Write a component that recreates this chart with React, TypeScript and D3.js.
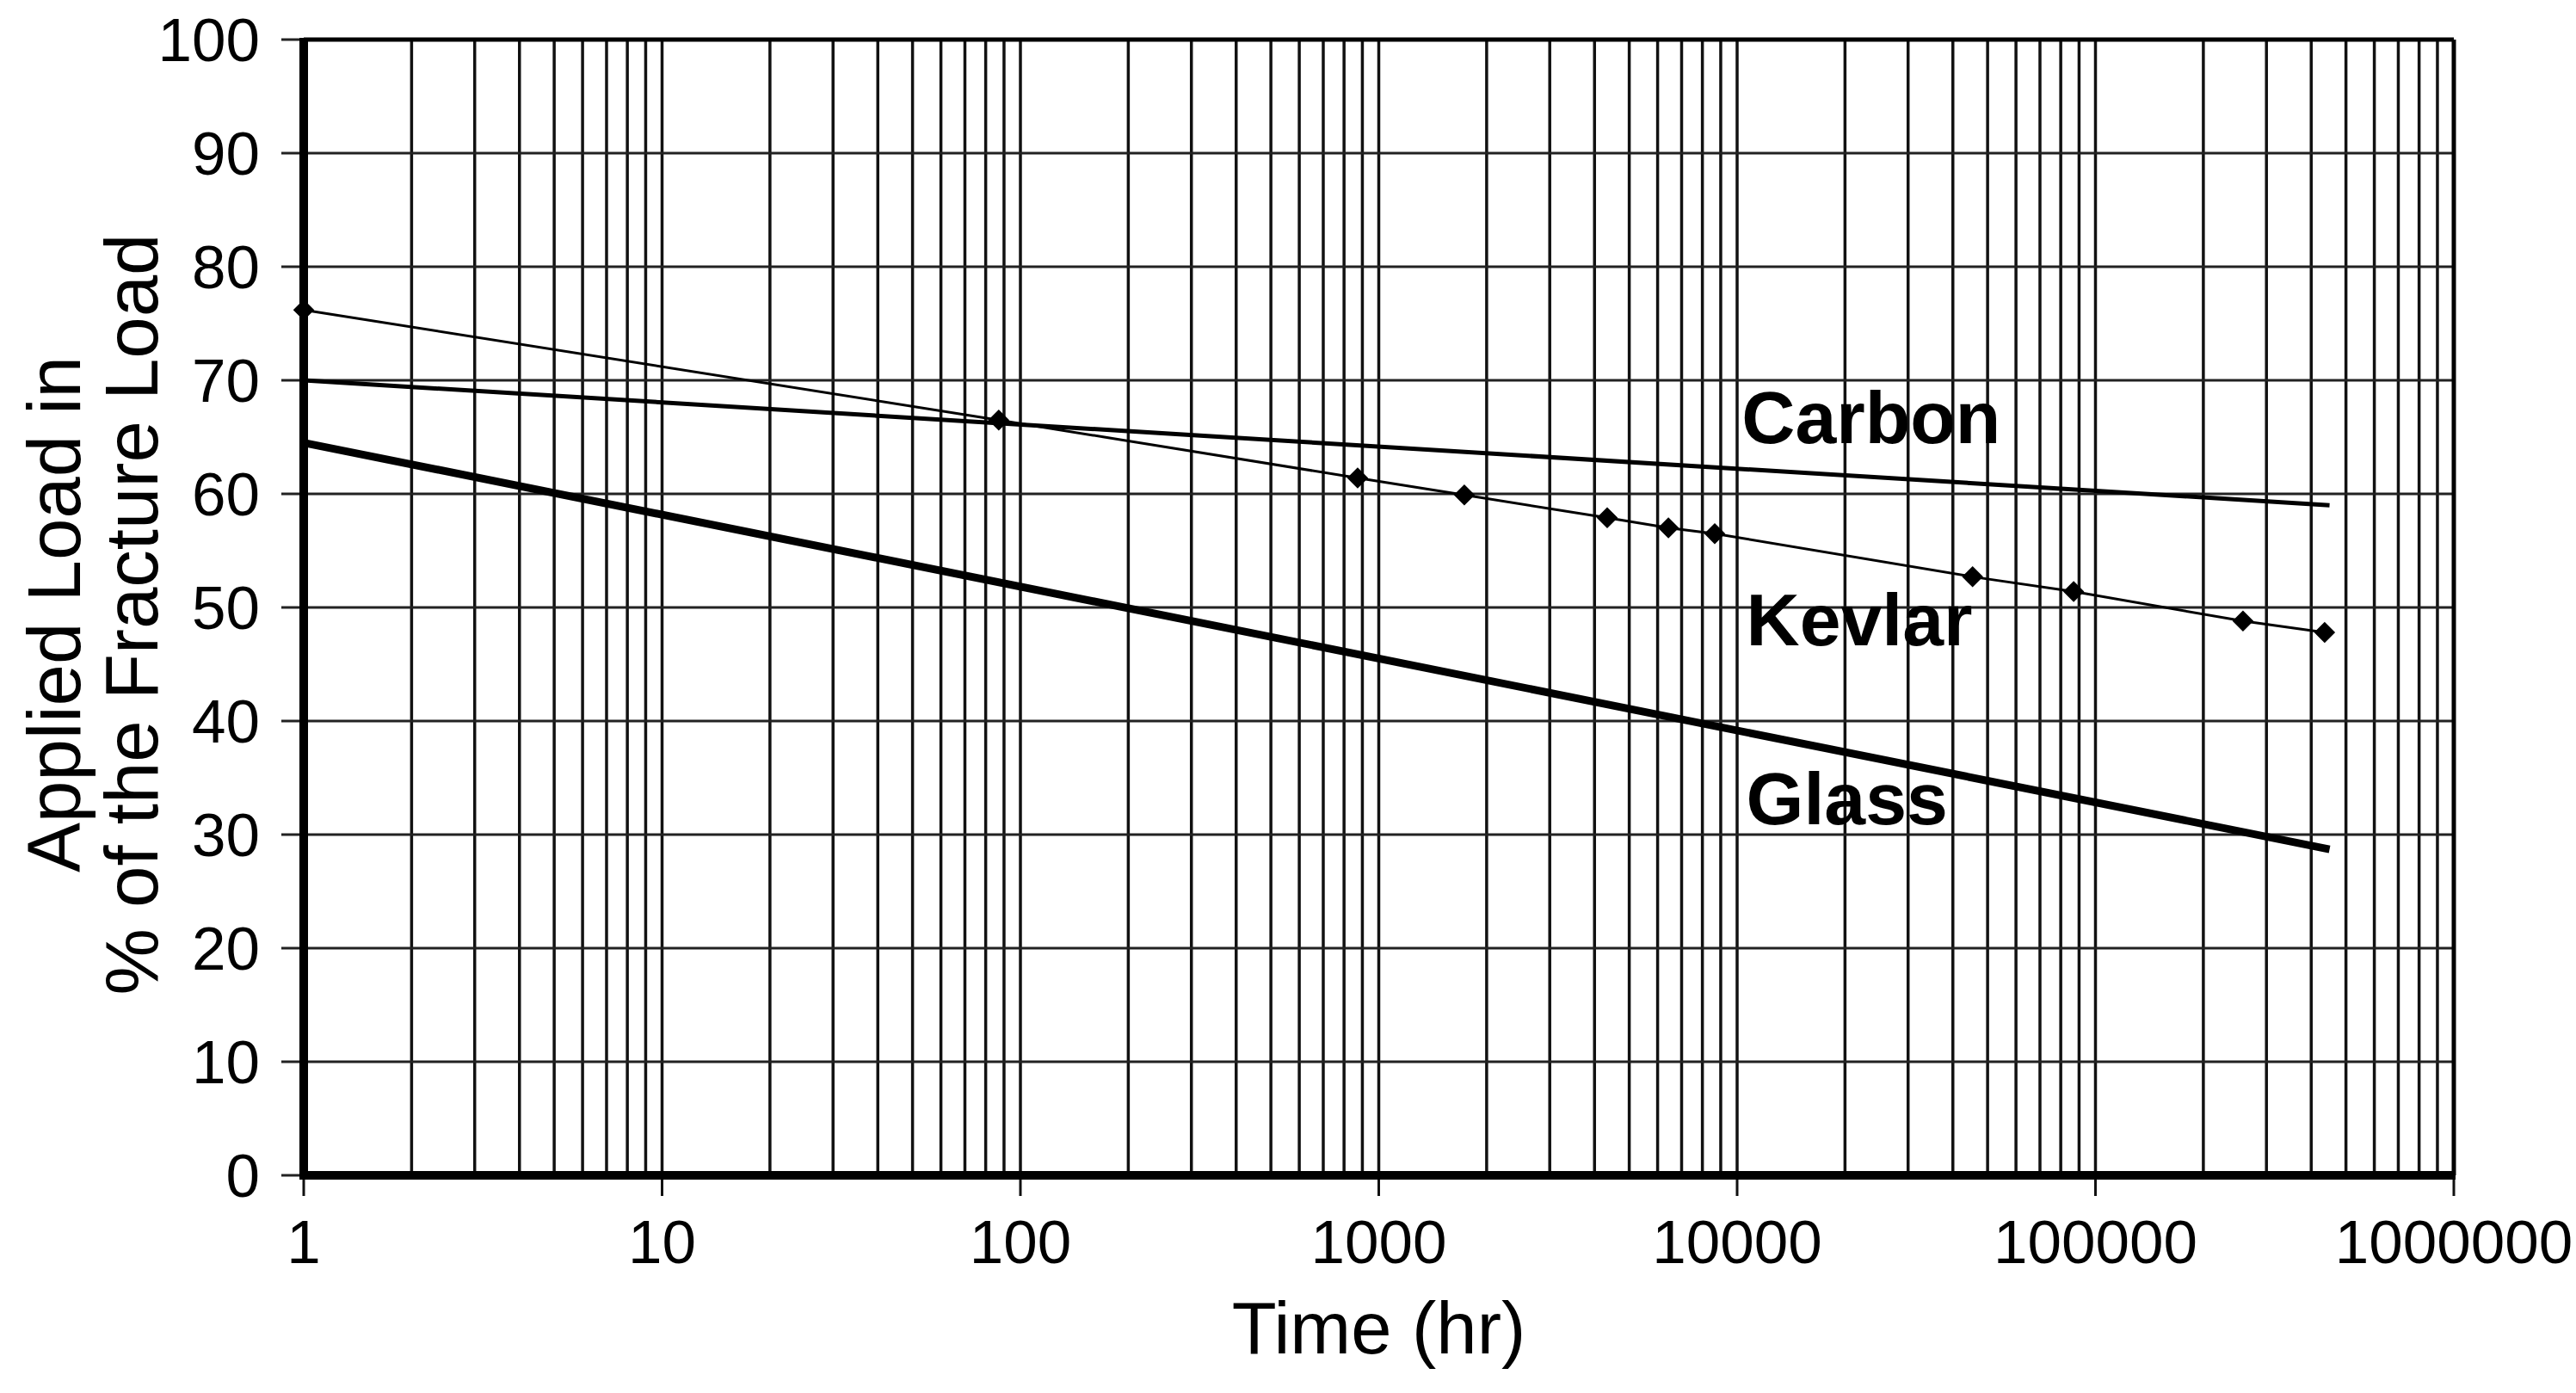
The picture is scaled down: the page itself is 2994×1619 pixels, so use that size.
import React, { useEffect, useRef } from "react";
import * as d3 from "d3";

// Time (hr) and load (% of fracture load)
const kevlarTimes = [1, 87, 873, 1733, 4340, 6430, 8660, 45400, 86900, 258000, 436000];
const kevlarLoads = [76.2, 66.5, 61.4, 59.9, 57.9, 57.0, 56.5, 52.7, 51.4, 48.8, 47.8];

const carbonTimes = [1, 450000];
const carbonLoads = [70, 59.0];

const glassTimes = [1, 450000];
const glassLoads = [64.5, 28.7];

const xTickLabels = ["1", "10", "100", "1000", "10000", "100000", "1000000"];
const yTickValues = [0, 10, 20, 30, 40, 50, 60, 70, 80, 90, 100];

// label anchors: [time, load at baseline]
const curveLabels = [
  { name: "Carbon", t: 10300, v: 64.5 },
  { name: "Kevlar", t: 10600, v: 46.7 },
  { name: "Glass", t: 10600, v: 30.9 },
];

const WIDTH = 2994;
const HEIGHT = 1619;
const FONT = "'Liberation Sans', Arial, Helvetica, sans-serif";

const App: React.FC = () => {
  const ref = useRef<SVGSVGElement | null>(null);

  useEffect(() => {
    const x = d3.scaleLog().domain([1, 1e6]).range([353, 2852]);
    const y = d3.scaleLinear().domain([0, 100]).range([1366, 46]);

    const svg = d3.select(ref.current);
    svg.selectAll("*").remove();

    svg.append("rect").attr("width", WIDTH).attr("height", HEIGHT).attr("fill", "#fff");

    // vertical log grid
    svg
      .append("g")
      .selectAll("line")
      .data(x.ticks())
      .join("line")
      .attr("x1", (d) => x(d))
      .attr("x2", (d) => x(d))
      .attr("y1", y(100))
      .attr("y2", y(0))
      .attr("stroke", "#111")
      .attr("stroke-width", 3.5);

    // horizontal grid, with small ticks left of the axis
    svg
      .append("g")
      .selectAll("line")
      .data(yTickValues)
      .join("line")
      .attr("x1", x(1) - 26)
      .attr("x2", x(1e6))
      .attr("y1", (d) => y(d))
      .attr("y2", (d) => y(d))
      .attr("stroke", "#222")
      .attr("stroke-width", 3);

    // decade ticks below the x axis
    svg
      .append("g")
      .selectAll("line")
      .data(xTickLabels)
      .join("line")
      .attr("x1", (d) => x(+d))
      .attr("x2", (d) => x(+d))
      .attr("y1", y(0))
      .attr("y2", y(0) + 24)
      .attr("stroke", "#111")
      .attr("stroke-width", 3);

    // frame: thin top/right, heavy left/bottom
    svg
      .append("line")
      .attr("x1", x(1))
      .attr("x2", x(1e6))
      .attr("y1", y(100))
      .attr("y2", y(100))
      .attr("stroke", "#000")
      .attr("stroke-width", 5);
    svg
      .append("line")
      .attr("x1", x(1e6))
      .attr("x2", x(1e6))
      .attr("y1", y(100))
      .attr("y2", y(0))
      .attr("stroke", "#000")
      .attr("stroke-width", 5);
    svg
      .append("line")
      .attr("x1", x(1))
      .attr("x2", x(1))
      .attr("y1", y(100) - 2)
      .attr("y2", y(0) + 5)
      .attr("stroke", "#000")
      .attr("stroke-width", 10);
    svg
      .append("line")
      .attr("x1", x(1) - 5)
      .attr("x2", x(1e6) + 2)
      .attr("y1", y(0))
      .attr("y2", y(0))
      .attr("stroke", "#000")
      .attr("stroke-width", 10);

    const line = d3
      .line<[number, number]>()
      .x((d) => x(d[0]))
      .y((d) => y(d[1]));

    const carbon = d3.zip(carbonTimes, carbonLoads) as [number, number][];
    const glass = d3.zip(glassTimes, glassLoads) as [number, number][];
    const kevlar = d3.zip(kevlarTimes, kevlarLoads) as [number, number][];

    svg
      .append("path")
      .attr("d", line(glass))
      .attr("fill", "none")
      .attr("stroke", "#000")
      .attr("stroke-width", 9);
    svg
      .append("path")
      .attr("d", line(carbon))
      .attr("fill", "none")
      .attr("stroke", "#000")
      .attr("stroke-width", 5);
    svg
      .append("path")
      .attr("d", line(kevlar))
      .attr("fill", "none")
      .attr("stroke", "#000")
      .attr("stroke-width", 3);

    const diamond = d3.symbol(d3.symbolSquare, 300)();
    svg
      .append("g")
      .selectAll("path")
      .data(kevlar)
      .join("path")
      .attr("d", diamond)
      .attr("transform", (d) => `translate(${x(d[0])},${y(d[1])}) rotate(45)`)
      .attr("fill", "#000");

    // tick labels
    svg
      .append("g")
      .selectAll("text")
      .data(yTickValues)
      .join("text")
      .attr("x", 302)
      .attr("y", (d) => y(d) + 25)
      .attr("text-anchor", "end")
      .attr("font-family", FONT)
      .attr("font-size", 71)
      .text((d) => d);

    svg
      .append("g")
      .selectAll("text")
      .data(xTickLabels)
      .join("text")
      .attr("x", (d) => x(+d))
      .attr("y", 1468)
      .attr("text-anchor", "middle")
      .attr("font-family", FONT)
      .attr("font-size", 71)
      .text((d) => d);

    // axis titles
    svg
      .append("text")
      .attr("x", (x(1) + x(1e6)) / 2)
      .attr("y", 1573)
      .attr("text-anchor", "middle")
      .attr("font-family", FONT)
      .attr("font-size", 85)
      .text("Time (hr)");

    const yTitle = svg
      .append("text")
      .attr("transform", "translate(0,714) rotate(-90)")
      .attr("text-anchor", "middle")
      .attr("font-family", FONT)
      .attr("font-size", 87);
    yTitle.append("tspan").attr("x", 0).attr("y", 93).text("Applied Load in");
    yTitle.append("tspan").attr("x", 0).attr("y", 183).text("% of the Fracture Load");

    // curve labels
    svg
      .append("g")
      .selectAll("text")
      .data(curveLabels)
      .join("text")
      .attr("x", (d) => x(d.t))
      .attr("y", (d) => y(d.v))
      .attr("font-family", FONT)
      .attr("font-weight", "bold")
      .attr("font-size", 86)
      .text((d) => d.name);
  }, []);

  return (
    <svg
      ref={ref}
      width={WIDTH}
      height={HEIGHT}
      style={{ position: "absolute", left: 0, top: 0, display: "block" }}
    />
  );
};

export default App;
